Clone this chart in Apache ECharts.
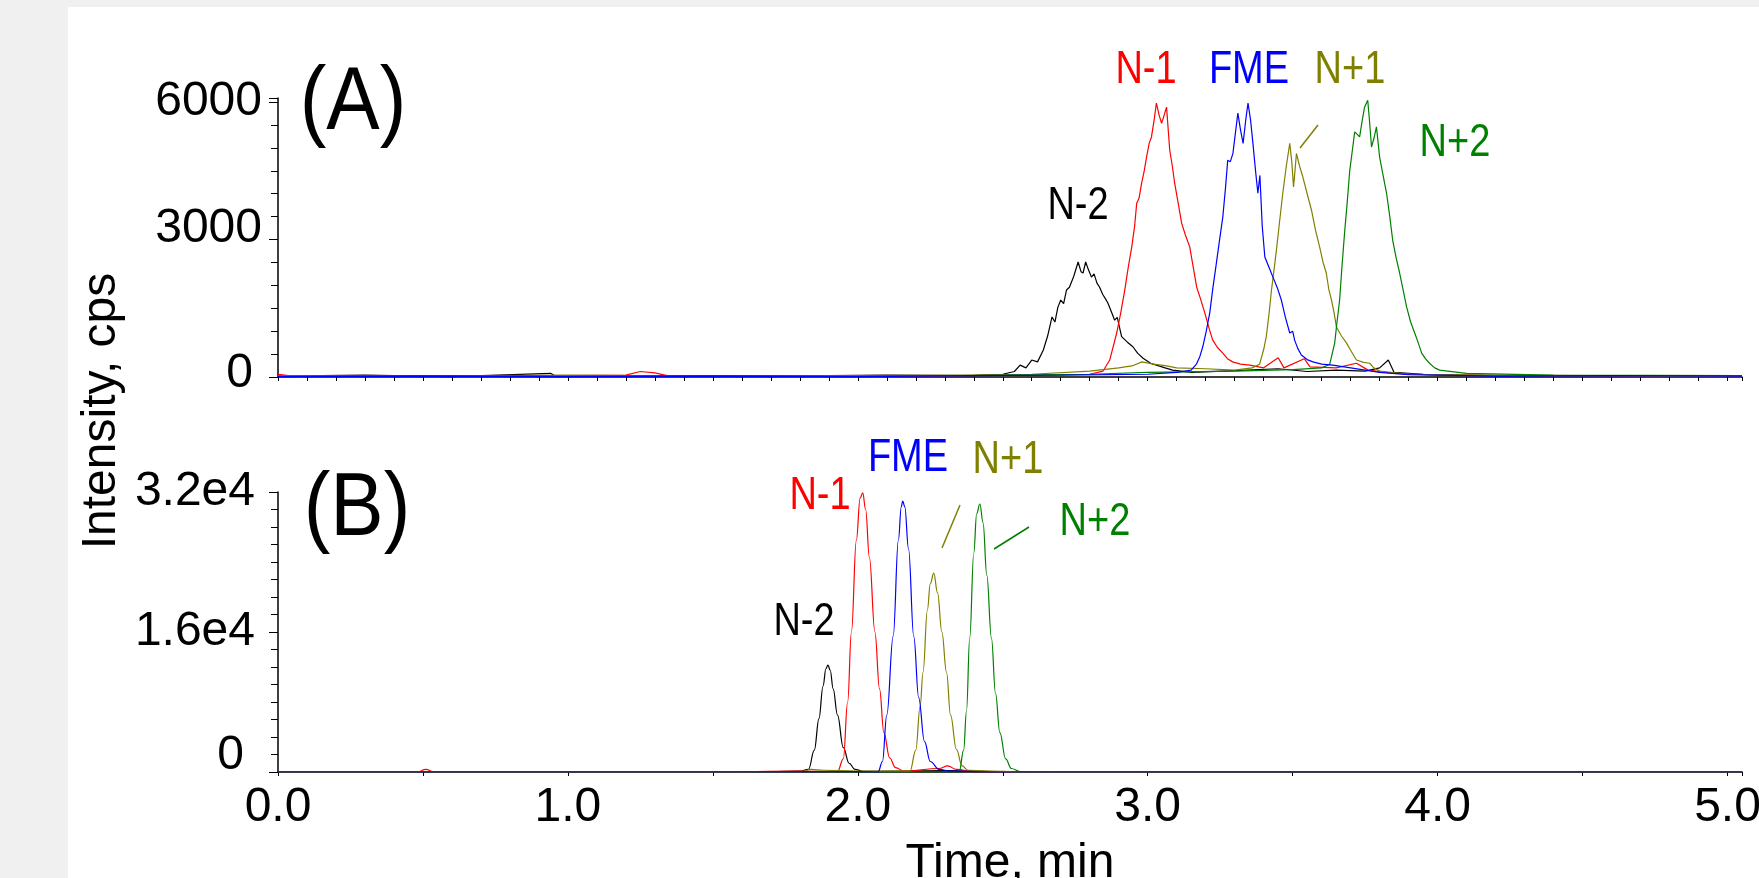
<!DOCTYPE html>
<html>
<head>
<meta charset="utf-8">
<script src="https://cdn.jsdelivr.net/npm/echarts@6/dist/echarts.min.js"></script>
<style>
html,body{margin:0;padding:0;background:#f0f0f0;overflow:hidden;}
#paper{position:absolute;left:68px;top:7px;right:0;bottom:0;background:#fff;}
#chart{position:absolute;left:0;top:0;width:1759px;height:878px;}
</style>
</head>
<body>
<div id="paper"></div>
<div id="chart"></div>
<script>
// tick labels
var xTicks = [0, 1, 2, 3, 4, 5];
var yTicksA = [0, 3000, 6000];
var yTicksB = [0, 16000, 32000];
var yNamesB = ['0', '1.6e4', '3.2e4'];

// (A) time (min), intensity (cps)
var aN2 = [[0,20],[0.3,40],[0.6,10],[0.94,80],[0.96,10],[1.3,30],[1.7,20],[2.1,40],[2.4,30],[2.5,60],[2.54,120],[2.56,260],[2.58,200],[2.6,370],[2.62,330],[2.64,590],[2.655,900],[2.67,1310],[2.68,1200],[2.69,1520],[2.7,1680],[2.71,1600],[2.72,1900],[2.73,1960],[2.745,2200],[2.76,2510],[2.77,2300],[2.777,2270],[2.786,2510],[2.795,2350],[2.806,2180],[2.815,2250],[2.825,2050],[2.834,1960],[2.845,1800],[2.855,1700],[2.863,1610],[2.875,1420],[2.886,1240],[2.895,1300],[2.91,880],[2.93,760],[2.949,660],[2.965,520],[2.984,410],[3.01,300],[3.03,260],[3.06,200],[3.086,150],[3.15,100],[3.3,140],[3.45,180],[3.55,120],[3.65,150],[3.75,130],[3.8,200],[3.83,370],[3.85,100],[3.95,60],[4.2,30],[4.6,20],[5.05,30]];
var aN1 = [[0,60],[0.05,20],[0.4,30],[0.8,20],[1.2,40],[1.25,120],[1.3,90],[1.35,20],[1.8,30],[2.2,20],[2.5,40],[2.7,50],[2.8,60],[2.846,130],[2.869,370],[2.893,960],[2.907,1400],[2.921,1900],[2.933,2400],[2.945,2840],[2.955,3300],[2.962,3790],[2.97,3900],[2.979,4230],[2.988,4500],[2.996,4800],[3.005,5100],[3.013,5240],[3.022,5600],[3.03,5980],[3.04,5700],[3.048,5540],[3.056,5700],[3.065,5890],[3.076,4950],[3.085,4600],[3.093,4230],[3.105,3800],[3.117,3360],[3.13,3100],[3.145,2840],[3.157,2400],[3.169,1960],[3.18,1750],[3.197,1400],[3.21,1100],[3.224,810],[3.24,650],[3.259,520],[3.275,400],[3.293,330],[3.32,280],[3.352,260],[3.4,200],[3.45,420],[3.47,200],[3.54,400],[3.56,220],[3.65,200],[3.72,300],[3.76,150],[3.85,80],[4.0,40],[4.5,30],[5.05,20]];
var aFME = [[0,10],[0.5,20],[1.0,10],[1.5,20],[2.0,10],[2.4,30],[2.7,40],[3.0,60],[3.1,100],[3.15,150],[3.168,280],[3.18,450],[3.19,660],[3.202,1000],[3.214,1400],[3.225,1950],[3.237,2490],[3.248,3000],[3.259,3490],[3.268,4100],[3.276,4730],[3.285,4700],[3.294,4880],[3.302,5300],[3.311,5760],[3.32,5400],[3.329,5100],[3.338,5600],[3.346,5980],[3.355,5600],[3.363,5100],[3.372,4500],[3.38,4010],[3.387,4400],[3.395,3300],[3.404,2620],[3.418,2400],[3.432,2180],[3.447,1950],[3.461,1680],[3.475,1300],[3.49,960],[3.5,1000],[3.507,800],[3.518,620],[3.53,480],[3.55,380],[3.57,330],[3.6,280],[3.638,260],[3.7,200],[3.75,150],[3.8,100],[3.9,50],[4.2,20],[4.6,30],[5.05,20]];
var aNp1 = [[0,30],[0.5,20],[1.0,40],[1.5,20],[2.0,30],[2.4,40],[2.6,60],[2.8,130],[2.9,200],[2.95,250],[2.98,330],[3.02,280],[3.06,250],[3.1,200],[3.2,180],[3.3,150],[3.36,200],[3.386,280],[3.4,600],[3.409,880],[3.418,1350],[3.427,1900],[3.435,2300],[3.444,2770],[3.455,3400],[3.466,4010],[3.478,4600],[3.49,5100],[3.497,4700],[3.503,4150],[3.508,4500],[3.513,4880],[3.524,4600],[3.535,4370],[3.55,4000],[3.565,3640],[3.579,3200],[3.593,2840],[3.605,2500],[3.616,2270],[3.625,1900],[3.634,1680],[3.643,1400],[3.651,1090],[3.668,900],[3.686,740],[3.703,550],[3.72,370],[3.745,320],[3.766,300],[3.78,200],[3.8,130],[3.9,60],[4.3,30],[5.05,20]];
var aNp2 = [[0,20],[0.5,30],[1.0,20],[1.5,30],[2.0,20],[2.5,40],[2.8,60],[3.0,100],[3.3,130],[3.5,160],[3.6,200],[3.628,280],[3.645,740],[3.653,1200],[3.662,1680],[3.67,2400],[3.679,3140],[3.688,3800],[3.697,4510],[3.705,4900],[3.714,5350],[3.722,5300],[3.731,5240],[3.74,5600],[3.748,5890],[3.759,6040],[3.765,5600],[3.772,5020],[3.78,5200],[3.789,5460],[3.8,4800],[3.812,4400],[3.824,4010],[3.835,3500],[3.845,2990],[3.857,2600],[3.869,2270],[3.881,1900],[3.893,1530],[3.907,1200],[3.921,960],[3.933,750],[3.945,520],[3.958,400],[3.972,300],[3.99,200],[4.007,150],[4.1,80],[4.4,40],[5.05,30]];

// (B)
var bN2 = [[0,0],[1.0,0],[1.7,50],[1.8,100],[1.83,300],[1.85,2500],[1.866,6100],[1.88,9800],[1.89,11800],[1.897,12230],[1.905,11600],[1.915,9500],[1.93,6500],[1.95,2800],[1.97,1000],[1.99,300],[2.02,80],[2.3,150],[2.5,50],[3.0,0],[5.05,0]];
var bN1 = [[0,0],[0.48,0],[0.51,300],[0.54,0],[1.5,0],[1.8,100],[1.93,50],[1.95,1500],[1.965,8000],[1.978,16000],[1.995,26500],[2.008,31300],[2.017,31900],[2.027,30000],[2.04,24500],[2.059,16000],[2.075,9500],[2.09,4500],[2.11,1600],[2.13,500],[2.16,100],[2.28,400],[2.31,700],[2.34,300],[2.4,50],[3.0,0],[5.05,0]];
var bFME = [[0,0],[1.5,0],[2.0,50],[2.07,0],[2.085,1200],[2.1,6500],[2.122,15500],[2.14,26500],[2.15,30300],[2.155,30970],[2.162,30300],[2.175,25500],[2.193,15500],[2.21,8500],[2.23,3500],[2.25,1200],[2.28,300],[2.32,100],[2.5,0],[5.05,0]];
var bNp1 = [[0,0],[1.8,0],[1.84,300],[1.88,200],[2.0,100],[2.18,100],[2.2,2500],[2.215,7500],[2.225,11400],[2.24,18500],[2.25,21500],[2.262,22740],[2.275,20500],[2.29,16000],[2.306,11400],[2.32,6500],[2.34,2600],[2.36,700],[2.38,200],[2.45,100],[2.6,0],[5.05,0]];
var bNp2 = [[0,0],[2.3,0],[2.35,50],[2.365,2500],[2.375,7000],[2.386,15300],[2.4,25000],[2.41,29500],[2.421,30630],[2.432,28500],[2.445,22500],[2.461,15300],[2.475,9000],[2.49,4500],[2.51,1500],[2.53,400],[2.56,50],[2.7,0],[5.05,0]];

var sans = '"Liberation Sans", Arial, sans-serif';
var RED = '#ff0000', BLUE = '#0000ff', OLIVE = '#808000', GREEN = '#008000', BLACK = '#000000';
var tickFont = 48;

function trace(name, data, color, idx, smooth) {
  return {
    name: name, type: 'line', xAxisIndex: idx, yAxisIndex: idx,
    data: data, symbol: 'none', showSymbol: false,
    smooth: smooth, smoothMonotone: 'x',
    lineStyle: {color: color, width: 1.2}, itemStyle: {color: color},
    silent: true
  };
}

// text a little taller than wide, like the original export
function label(txt, x, y, color, size, sy) {
  return {type: 'text', x: x, y: y, z: 100, scaleY: sy,
    style: {text: txt, fill: color, fontSize: size, fontFamily: sans, align: 'center', verticalAlign: 'middle'}};
}
function pointer(x1, y1, x2, y2, color) {
  return {type: 'line', z: 100, shape: {x1: x1, y1: y1, x2: x2, y2: y2}, style: {stroke: color, lineWidth: 1.5}};
}

var axisBlack = {lineStyle: {color: '#000', width: 1.5}};
var mychart = echarts.init(document.getElementById('chart'));
var option = {
  animation: false,
  backgroundColor: 'transparent',
  grid: [
    {left: 278, top: 98, width: 1464, height: 279, containLabel: false, outerBoundsMode: 'none'},
    {left: 278, top: 492, width: 1464, height: 280, containLabel: false, outerBoundsMode: 'none'}
  ],
  xAxis: [
    {type: 'value', gridIndex: 0, min: 0, max: 5.05, interval: 0.1,
      axisLine: axisBlack, axisTick: {length: 4, lineStyle: {color: '#000'}},
      axisLabel: {show: false}, splitLine: {show: false}},
    {type: 'value', gridIndex: 1, min: 0, max: 5.05, interval: 0.5,
      axisLine: axisBlack, axisTick: {length: 4, lineStyle: {color: '#000'}},
      axisLabel: {margin: 12, color: '#000', fontSize: tickFont, fontFamily: sans,
        formatter: function (v) {
          for (var i = 0; i < xTicks.length; i++) {
            if (Math.abs(v - xTicks[i]) < 1e-6) return xTicks[i].toFixed(1);
          }
          return '';
        }},
      splitLine: {show: false},
      name: 'Time, min', nameLocation: 'middle', nameGap: 68,
      nameTextStyle: {color: '#000', fontSize: 48, fontFamily: sans}}
  ],
  yAxis: [
    {type: 'value', gridIndex: 0, min: 0, max: 6090, interval: 3000,
      axisLine: {show: true, lineStyle: {color: '#000', width: 1.5}},
      axisTick: {show: true, length: 9, lineStyle: {color: '#000'}},
      minorTick: {show: true, splitNumber: 6, length: 7, lineStyle: {color: '#000'}},
      splitLine: {show: false},
      axisLabel: {margin: 16, color: '#000', fontSize: tickFont, fontFamily: sans,
        formatter: function (v) {
          if (v === yTicksA[0]) return '{z|0}';
          if (v === yTicksA[1]) return '{m|' + v + '}';
          if (v === yTicksA[2]) return '' + v;
          return '';
        },
        rich: {
          z: {color: '#000', fontSize: tickFont, fontFamily: sans, padding: [0, 9, 6, 0]},
          m: {color: '#000', fontSize: tickFont, fontFamily: sans, padding: [0, 0, 22, 0]}
        }}},
    {type: 'value', gridIndex: 1, min: 0, max: 32000, interval: 16000,
      axisLine: {show: true, lineStyle: {color: '#000', width: 1.5}},
      axisTick: {show: true, length: 9, lineStyle: {color: '#000'}},
      minorTick: {show: true, splitNumber: 8, length: 7, lineStyle: {color: '#000'}},
      splitLine: {show: false},
      axisLabel: {margin: 23, color: '#000', fontSize: tickFont, fontFamily: sans,
        formatter: function (v) {
          var i = yTicksB.indexOf(v);
          if (i === 0) return '{z|' + yNamesB[0] + '}';
          if (i > 0) return yNamesB[i];
          return '';
        },
        rich: {
          z: {color: '#000', fontSize: tickFont, fontFamily: sans, padding: [0, 11, 32, 0]}
        }}}
  ],
  graphic: [
    {type: 'text', x: 102, y: 411, rotation: Math.PI / 2,
      style: {text: 'Intensity, cps', fill: '#000', fontSize: 48, fontFamily: sans, align: 'center', verticalAlign: 'middle'}},
    label('(A)', 353, 104, BLACK, 80, 1.12),
    label('(B)', 357, 510, BLACK, 80, 1.12),
    label('N-1', 1146, 70, RED, 38, 1.2),
    label('FME', 1249, 70, BLUE, 38, 1.2),
    label('N+1', 1350, 70, OLIVE, 38, 1.2),
    label('N+2', 1455, 143, GREEN, 38, 1.2),
    label('N-2', 1078, 206, BLACK, 38, 1.2),
    pointer(1318, 125, 1300, 148, OLIVE),
    label('N-1', 820, 496, RED, 38, 1.2),
    label('FME', 908, 458, BLUE, 38, 1.2),
    label('N+1', 1008, 460, OLIVE, 38, 1.2),
    label('N+2', 1095, 522, GREEN, 38, 1.2),
    label('N-2', 804, 622, BLACK, 38, 1.2),
    pointer(960, 505, 942, 548, OLIVE),
    pointer(1029, 527, 994, 549, GREEN)
  ],
  series: [
    trace('N-2', aN2, BLACK, 0, false),
    trace('N-1', aN1, RED, 0, false),
    trace('N+1', aNp1, OLIVE, 0, false),
    trace('N+2', aNp2, GREEN, 0, false),
    trace('FME', aFME, BLUE, 0, false),
    trace('N-2', bN2, BLACK, 1, 0.4),
    trace('N-1', bN1, RED, 1, 0.4),
    trace('N+1', bNp1, OLIVE, 1, 0.4),
    trace('N+2', bNp2, GREEN, 1, 0.4),
    trace('FME', bFME, BLUE, 1, 0.4)
  ]
};
mychart.setOption(option);
</script>
</body>
</html>
